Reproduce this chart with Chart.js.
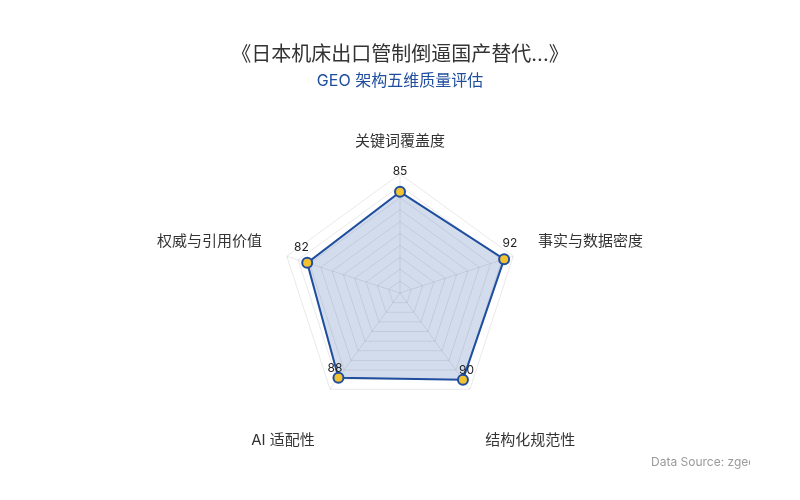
<!DOCTYPE html>
<html>
<head>
<meta charset="utf-8">
<script src="https://cdn.jsdelivr.net/npm/chart.js@4/dist/chart.umd.min.js"></script>
<style>
  html, body { margin: 0; padding: 0; background: #fff; }
  #wrap { width: 800px; height: 500px; }
</style>
</head>
<body>
<div id="wrap"><canvas id="geoRadar"></canvas></div>
<script>
const FONT = "Inter, 'Noto Sans CJK SC', sans-serif";

const dimensions = ["关键词覆盖度", "事实与数据密度", "结构化规范性", "AI 适配性", "权威与引用价值"];
const scores     = [85, 92, 90, 88, 82];
const titleText    = "《日本机床出口管制倒逼国产替代...》";
const subtitleText = "GEO 架构五维质量评估";
const sourceText   = "Data Source: zgeo.ai";

const BLUE = "#1f4e9e";

// point labels + value labels drawn off the radial scale
const radarText = {
  id: "radarText",
  afterDatasetsDraw(chart) {
    const { ctx } = chart;
    const scale = chart.scales.r;
    const meta = chart.getDatasetMeta(0);
    const cx = scale.xCenter, cy = scale.yCenter;

    ctx.save();
    ctx.font = "15px " + FONT;
    ctx.fillStyle = "#333";
    ctx.textBaseline = "middle";
    dimensions.forEach((label, i) => {
      const p = scale.getPointPosition(i, scale.drawingArea + 26);
      const lower = p.y > cy + 10;
      if (Math.abs(p.x - cx) < 2) ctx.textAlign = "center";
      else ctx.textAlign = p.x > cx ? "left" : "right";
      ctx.fillText(label, p.x, lower ? p.y + 30 : p.y - 7);
    });

    ctx.font = "12px " + FONT;
    ctx.fillStyle = "#222";
    ctx.textAlign = "center";
    meta.data.forEach((pt, i) => {
      const dx = pt.x - cx, dy = pt.y - cy;
      const len = Math.sqrt(dx * dx + dy * dy) || 1;
      ctx.fillText(String(scores[i]), pt.x + dx / len * 6, pt.y + dy / len * 6 - 14);
    });

    // source note, cut off at the right like the original
    ctx.beginPath();
    ctx.rect(600, 440, 150, 40);
    ctx.clip();
    ctx.font = "12px " + FONT;
    ctx.fillStyle = "#9a9a9a";
    ctx.textAlign = "left";
    ctx.fillText(sourceText, 651, 462);
    ctx.restore();
  }
};

new Chart(document.getElementById("geoRadar"), {
  type: "radar",
  data: {
    labels: dimensions,
    datasets: [{
      data: scores,
      backgroundColor: "rgba(31, 78, 158, 0.2)",
      borderColor: BLUE,
      borderWidth: 2,
      pointBackgroundColor: "#f2c230",
      pointBorderColor: BLUE,
      pointBorderWidth: 2,
      pointRadius: 5
    }]
  },
  options: {
    responsive: true,
    maintainAspectRatio: false,
    animation: false,
    layout: { padding: { top: 0, bottom: 87, left: 0, right: 0 } },
    scales: {
      r: {
        min: 0,
        max: 100,
        ticks: { display: false, stepSize: 10 },
        pointLabels: { display: false },
        grid: { color: "rgba(0,0,0,0.09)" },
        angleLines: { color: "rgba(0,0,0,0.09)" }
      }
    },
    plugins: {
      legend: { display: false },
      tooltip: { enabled: false },
      title: {
        display: true,
        text: titleText,
        color: "#333",
        font: { family: FONT, size: 20, weight: "normal" },
        padding: { top: 43, bottom: 3 }
      },
      subtitle: {
        display: true,
        text: subtitleText,
        color: BLUE,
        font: { family: FONT, size: 16, weight: "normal" },
        padding: { top: 2, bottom: 82 }
      }
    }
  },
  plugins: [radarText]
});
</script>
</body>
</html>
